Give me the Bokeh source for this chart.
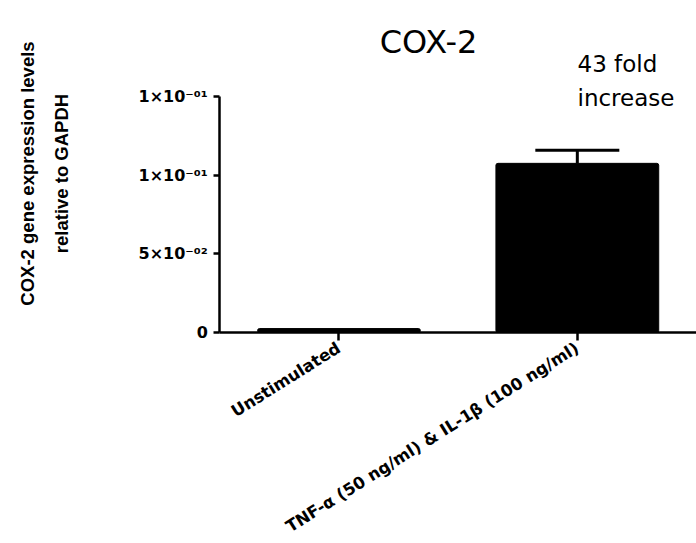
from math import pi
from bokeh.plotting import figure
from bokeh.models import (ColumnDataSource, Range1d, FixedTicker,
                          Whisker, TeeHead, Label)
from bokeh.embed import file_html
from bokeh.resources import INLINE

# ---- data ----
categories = ["Unstimulated", "TNF-α (50 ng/ml) & IL-1β (100 ng/ml)"]
values = [0.0025, 0.1075]
errors = [0.0, 0.0083]
y_ticks = [0, 0.05, 0.10, 0.15]
y_tick_labels = ["0", "5×10⁻⁰²", "1×10⁻⁰¹", "1×10⁻⁰¹"]
title_text = "COX-2"
note_lines = ["43 fold", "increase"]
y_label_lines = ["COX-2 gene expression levels", "relative to GAPDH"]

# category slots on a numeric axis: slot i is centred at i + 0.5
x_pos = [i + 0.5 for i in range(len(categories))]
source = ColumnDataSource(dict(x=x_pos, val=values))
err_rows = [i for i, e in enumerate(errors) if e > 0]
err_source = ColumnDataSource(dict(
    x=[x_pos[i] for i in err_rows],
    lower=[values[i] for i in err_rows],
    upper=[values[i] + errors[i] for i in err_rows],
))

n = len(categories)
p = figure(width=696, height=543, x_range=Range1d(-0.92, n),
           y_range=Range1d(-0.1341, 0.211), output_backend="svg", toolbar_location=None,
           title=None)
p.min_border_left = 0
p.min_border_right = 0
p.min_border_top = 0
p.min_border_bottom = 0
p.outline_line_color = None
p.xgrid.visible = False
p.ygrid.visible = False
p.background_fill_color = "white"
p.border_fill_color = "white"

p.vbar(x="x", top="val", width=0.683, source=source, fill_color="black",
       line_color="black", border_radius=2)

w = Whisker(source=err_source, base="x", lower="lower", upper="upper",
            line_width=3, line_color="black", level="annotation",
            upper_head=TeeHead(size=84, line_width=3, line_color="black"),
            lower_head=None)
p.add_layout(w)

# axes
for ax in (p.xaxis[0], p.yaxis[0]):
    ax.axis_line_width = 2.5
    ax.major_tick_line_width = 2.5
    ax.major_tick_in = 0
    ax.minor_tick_line_color = None
    ax.major_label_text_font = "DejaVu Sans"
    ax.major_label_text_font_style = "bold"
    ax.major_label_text_color = "black"

p.yaxis.fixed_location = 0
p.yaxis.bounds = (0, 0.15)
p.yaxis.ticker = FixedTicker(ticks=y_ticks)
p.yaxis.major_label_overrides = {t: s for t, s in zip(y_ticks, y_tick_labels)}
p.yaxis.major_tick_out = 6
p.yaxis.major_label_text_font_size = "16px"
p.yaxis.major_label_standoff = 6

p.xaxis.fixed_location = 0
p.xaxis.bounds = (0, n)
p.xaxis.ticker = FixedTicker(ticks=x_pos)
p.xaxis.major_label_overrides = {t: s for t, s in zip(x_pos, categories)}
p.xaxis.major_tick_out = 8
p.xaxis.major_label_text_font_size = "16.5px"
p.xaxis.major_label_orientation = 0.56
p.xaxis.major_label_standoff = 6

# texts (screen units relative to the plot frame)
p.add_layout(Label(x=428, y=502, x_units="screen", y_units="screen", text=title_text,
                   text_font="DejaVu Sans", text_font_size="32px", text_align="center",
                   text_baseline="alphabetic", text_color="black"))
p.add_layout(Label(x=577, y=480, x_units="screen", y_units="screen", text=note_lines[0],
                   text_font="DejaVu Sans", text_font_size="23px", text_align="left",
                   text_baseline="alphabetic", text_color="black"))
p.add_layout(Label(x=577, y=446, x_units="screen", y_units="screen", text=note_lines[1],
                   text_font="DejaVu Sans", text_font_size="23px", text_align="left",
                   text_baseline="alphabetic", text_color="black"))
for line, sx in zip(y_label_lines, [27, 61]):
    p.add_layout(Label(x=sx, y=370, x_units="screen", y_units="screen", text=line,
                       angle=pi / 2, text_font="Liberation Sans", text_font_style="bold",
                       text_font_size="18.5px", text_align="center",
                       text_baseline="middle", text_color="black"))

open("out.html", "w").write(file_html(p, INLINE))
